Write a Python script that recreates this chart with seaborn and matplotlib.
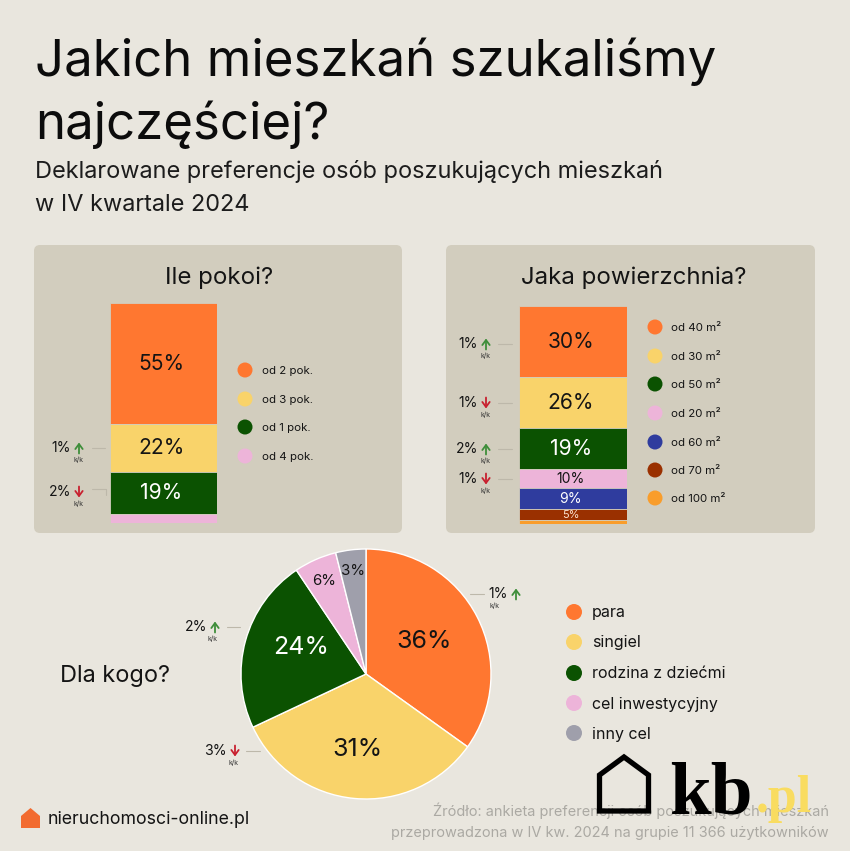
import matplotlib
matplotlib.use("Agg")
import matplotlib.pyplot as plt
from matplotlib.patches import FancyBboxPatch, Circle, Polygon
import seaborn as sns

# Colours
BG = "#E9E6DE"
PANEL = "#D2CDBE"
ORANGE = "#FF7730"
YELLOW = "#F9D36A"
GREEN = "#0B5201"
PINK = "#EDB4D9"
BLUE = "#2F3C9E"
BROWN = "#9A3000"
AMBER = "#F99D2B"
GREY = "#9F9FAB"
UP = "#3E8E3A"
DOWN = "#C8202F"
INK = "#141414"

# Data: the segment sizes are as drawn in the picture, the labels as printed on it
room_names = ["od 2 pok.", "od 3 pok.", "od 1 pok.", "od 4 pok."]
room_values = [55, 22, 19, 4]
room_labels = ["55%", "22%", "19%", ""]
room_colors = [ORANGE, YELLOW, GREEN, PINK]

area_names = ["od 40 m²", "od 30 m²", "od 50 m²", "od 20 m²", "od 60 m²", "od 70 m²", "od 100 m²"]
area_values = [32.6, 23.4, 18.8, 8.7, 9.6, 5.0, 1.8]
area_labels = ["30%", "26%", "19%", "10%", "9%", "5%", ""]
area_colors = [ORANGE, YELLOW, GREEN, PINK, BLUE, BROWN, AMBER]

who_names = ["para", "singiel", "rodzina z dziećmi", "cel inwestycyjny", "inny cel"]
who_values = [34.9, 33.1, 22.6, 5.5, 3.9]
who_labels = ["36%", "31%", "24%", "6%", "3%"]
who_colors = [ORANGE, YELLOW, GREEN, PINK, GREY]

sns.set_theme(style="white")
plt.rcParams["font.family"] = ["Inter", "DejaVu Sans"]

W, H = 850, 851
fig = plt.figure(figsize=(W / 100, H / 100), dpi=100, facecolor=BG)


def px_axes(x0, y0, x1, y1, zorder=1):
    # axes placed by pixel box, y counted from the top of the image
    ax = fig.add_axes([x0 / W, 1 - y1 / H, (x1 - x0) / W, (y1 - y0) / H], zorder=zorder)
    ax.patch.set_alpha(0)
    return ax


def fs(px):
    return px * 0.72


back = px_axes(0, 0, W, H, zorder=0)
top = px_axes(0, 0, W, H, zorder=5)
for a in (back, top):
    a.set_xlim(0, W)
    a.set_ylim(H, 0)
    a.axis("off")

for x0, x1 in [(34, 402), (446, 815)]:
    back.add_patch(FancyBboxPatch((x0 + 6, 251), x1 - x0 - 12, 276,
                                  boxstyle="round,pad=6,rounding_size=6", fc=PANEL, ec="none"))


def stacked_bar(box, values, labels, colors, sizes):
    ax = px_axes(*box)
    bottom = 0
    for v, lab, c, s in zip(values, labels, colors, sizes):
        sns.barplot(x=[0], y=[v], bottom=bottom, color=c, saturation=1, width=1,
                    edgecolor=PANEL, linewidth=0.6, ax=ax)
        if lab:
            tc = "white" if c in (GREEN, BLUE) else ("#FBE3D0" if c == BROWN else INK)
            ax.text(-0.02, bottom + v / 2, lab, ha="center", va="center", color=tc, fontsize=fs(s))
        bottom += v
    ax.set_xlim(-0.5, 0.5)
    ax.set_ylim(bottom, 0)
    ax.axis("off")


stacked_bar((110, 303, 217, 523), room_values, room_labels, room_colors, [21, 21, 21, 0])
stacked_bar((519, 306, 627, 524), area_values, area_labels, area_colors, [21, 21, 21, 14, 14, 11, 0])

# Pie
pie_ax = px_axes(236, 544, 496, 804)
pie_ax.pie(who_values, colors=who_colors, startangle=90, counterclock=False, radius=1)
pie_ax.set_xlim(-1.04, 1.04)
pie_ax.set_ylim(-1.04, 1.04)
for (x, y), lab, c, s in zip([(424, 642), (357, 750), (301, 648), (324, 581), (353, 571)],
                             who_labels, who_colors, [25, 25, 25, 15, 15]):
    top.text(x, y, lab, ha="center", va="center", fontsize=fs(s), color="white" if c == GREEN else INK)

# Titles
top.text(35, 76, "Jakich mieszkań szukaliśmy", fontsize=fs(51), color="#0c0c0c", va="baseline")
top.text(35, 139, "najczęściej?", fontsize=fs(51), color="#0c0c0c", va="baseline")
top.text(35, 178, "Deklarowane preferencje osób poszukujących mieszkań", fontsize=fs(23.5), color="#1c1c1c", va="baseline")
top.text(35, 211, "w IV kwartale 2024", fontsize=fs(23.5), color="#1c1c1c", va="baseline")
top.text(219, 278, "Ile pokoi?", fontsize=fs(24), color=INK, ha="center", va="center")
top.text(634, 278, "Jaka powierzchnia?", fontsize=fs(24), color=INK, ha="center", va="center")
top.text(60, 676, "Dla kogo?", fontsize=fs(23.5), color=INK, va="center")


def legend(names, colors, xc, ys, r, size, xt):
    for n, c, y in zip(names, colors, ys):
        top.add_patch(Circle((xc, y), r, fc=c, ec="none"))
        top.text(xt, y + 1, n, fontsize=fs(size), color=INK, va="center")


legend(room_names, room_colors, 245, [370, 399, 427, 456], 7.5, 11.5, 262)
legend(area_names, area_colors, 655, [327, 356, 384, 413, 442, 470, 498], 7.5, 11.5, 671)
legend(who_names, who_colors, 574, [612, 642, 673, 703, 733], 8, 16, 592)


def delta(text, up, x_arrow, y, line, corner=False, kk_x=None):
    # change marker: value, arrow, "k/k" and the thin leader line
    c = UP if up else DOWN
    top.text(x_arrow - 8, y, text, fontsize=fs(14), color=INK, ha="right", va="center")
    y0, y1 = (y + 5.5, y - 5.5) if up else (y - 5.5, y + 5.5)
    top.annotate("", xy=(x_arrow, y1), xytext=(x_arrow, y0),
                 arrowprops=dict(arrowstyle="->,head_length=0.3,head_width=0.22", color=c, lw=1.3,
                                 shrinkA=0, shrinkB=0))
    top.text(kk_x if kk_x else x_arrow, y + 11.5, "k/k", fontsize=fs(7), color="#333333", ha="center", va="center")
    if corner:
        top.plot([line[0], line[1], line[1]], [y - 3, y - 3, y + 3], color="#BDB8AA", lw=0.8)
    else:
        top.plot(line, [y, y], color="#BDB8AA", lw=0.8)


delta("1%", True, 79, 448, (92, 105))
delta("2%", False, 79, 492, (92, 106), corner=True)
delta("1%", True, 486, 344, (498, 512))
delta("1%", False, 486, 403, (498, 512))
delta("2%", True, 486, 449, (498, 512))
delta("1%", False, 486, 479, (498, 512))
delta("2%", True, 215, 627, (227, 240), kk_x=213)
delta("3%", False, 235, 751, (246, 260), kk_x=234)
delta("1%", True, 516, 594, (470, 484), kk_x=495)

# Footer
top.add_patch(Polygon([(21, 816), (30.5, 808), (40, 816), (40, 828), (21, 828)], fc="#F26B30", ec="none"))
top.text(48, 820, "nieruchomosci-online.pl", fontsize=fs(17.7), color=INK, va="center")
top.text(829, 816, "Źródło: ankieta preferencji osób poszukujących mieszkań", fontsize=fs(14.5),
         color="#ABA9A3", ha="right", va="baseline", zorder=1)
top.text(829, 837, "przeprowadzona w IV kw. 2024 na grupie 11 366 użytkowników", fontsize=fs(14.5),
         color="#ABA9A3", ha="right", va="baseline", zorder=1)

# kb.pl logo on top of the source note
top.add_patch(Polygon([(599.5, 775), (624, 757), (648.5, 775), (648.5, 811), (599.5, 811)], fc="none", ec="black",
                      lw=3.8, joinstyle="miter", zorder=6))
top.text(669, 813, "kb", fontsize=fs(75), family="Liberation Serif", weight="bold", color="black", zorder=6, va="baseline")
top.text(756, 812, ".pl", fontsize=fs(52), family="Liberation Serif", weight="bold", color="#F9DC60", zorder=6, va="baseline")

fig.savefig("out.png", dpi=100, facecolor=BG)
